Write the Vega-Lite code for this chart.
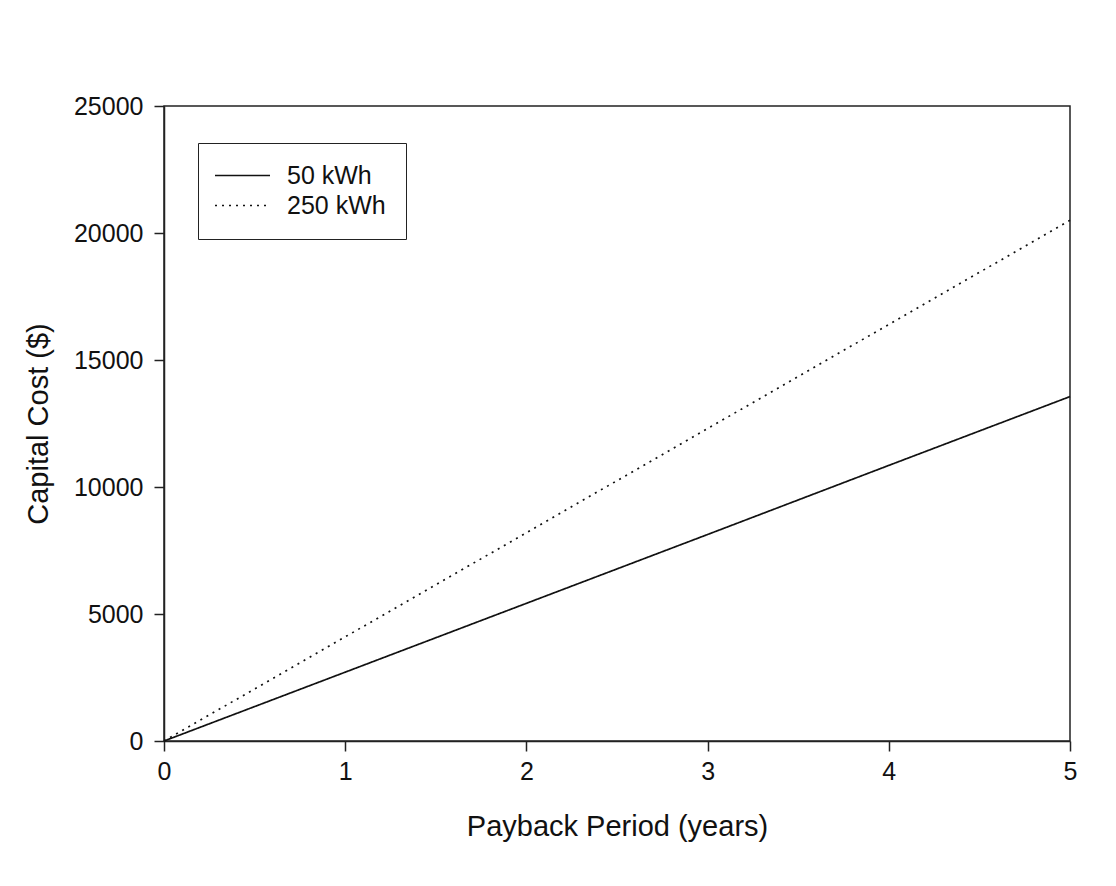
{
  "$schema": "https://vega.github.io/schema/vega-lite/v6.json",
  "autosize": "none",
  "width": 906,
  "height": 635,
  "padding": {"left": 164, "top": 106, "right": 46, "bottom": 145},
  "background": "white",
  "config": {
    "font": "Liberation Sans",
    "view": {"stroke": "#222", "strokeWidth": 1.5},
    "axis": {
      "domainColor": "#222",
      "domainWidth": 1.5,
      "tickColor": "#222",
      "tickWidth": 1.5,
      "tickSize": 10,
      "grid": false,
      "labelFlush": false,
      "labelFont": "Liberation Sans",
      "labelFontSize": 25,
      "labelColor": "#111",
      "titleFont": "Liberation Sans",
      "titleFontSize": 29,
      "titleFontWeight": "normal",
      "titleColor": "#111"
    }
  },
  "data": {
    "values": [
      {"years": 0, "cost": 0, "series": "50 kWh"},
      {"years": 1, "cost": 2710, "series": "50 kWh"},
      {"years": 2, "cost": 5420, "series": "50 kWh"},
      {"years": 3, "cost": 8130, "series": "50 kWh"},
      {"years": 4, "cost": 10850, "series": "50 kWh"},
      {"years": 5, "cost": 13560, "series": "50 kWh"},
      {"years": 0, "cost": 0, "series": "250 kWh"},
      {"years": 1, "cost": 4100, "series": "250 kWh"},
      {"years": 2, "cost": 8200, "series": "250 kWh"},
      {"years": 3, "cost": 12300, "series": "250 kWh"},
      {"years": 4, "cost": 16400, "series": "250 kWh"},
      {"years": 5, "cost": 20500, "series": "250 kWh"}
    ]
  },
  "mark": {"type": "line", "color": "#111", "strokeWidth": 1.7},
  "encoding": {
    "x": {
      "field": "years",
      "type": "quantitative",
      "scale": {"domain": [0, 5], "nice": false},
      "axis": {
        "title": "Payback Period (years)",
        "values": [0, 1, 2, 3, 4, 5],
        "labelPadding": 8,
        "titleY": 85,
        "titleBaseline": "middle"
      }
    },
    "y": {
      "field": "cost",
      "type": "quantitative",
      "scale": {"domain": [0, 25000], "nice": false},
      "axis": {
        "title": "Capital Cost ($)",
        "values": [0, 5000, 10000, 15000, 20000, 25000],
        "format": "d",
        "labelPadding": 11,
        "titleX": -126,
        "titleY": 317.5,
        "titleBaseline": "middle",
        "titleAlign": "center"
      }
    },
    "strokeDash": {
      "field": "series",
      "type": "nominal",
      "scale": {"domain": ["50 kWh", "250 kWh"], "range": [[1, 0], [2, 5]]},
      "legend": {
        "title": null,
        "orient": "none",
        "legendX": 34,
        "legendY": 37,
        "strokeColor": "#222",
        "fillColor": "white",
        "padding": 20,
        "symbolType": "M-2.75,0H2.75",
        "symbolSize": 400,
        "symbolOffset": 12,
        "symbolStrokeWidth": 1.7,
        "symbolStrokeColor": "#111",
        "symbolFillColor": "transparent",
        "labelFont": "Liberation Sans",
        "labelFontSize": 25,
        "labelColor": "#111",
        "labelOffset": 32,
        "rowPadding": 4
      }
    }
  }
}
